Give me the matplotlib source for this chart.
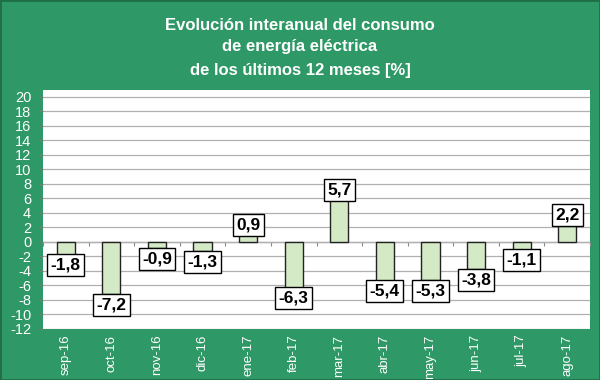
import matplotlib
matplotlib.use("Agg")
import matplotlib.pyplot as plt
import numpy as np

plt.rcParams["font.family"] = ["Liberation Sans", "DejaVu Sans"]

categories = ["sep-16", "oct-16", "nov-16", "dic-16", "ene-17", "feb-17",
              "mar-17", "abr-17", "may-17", "jun-17", "jul-17", "ago-17"]
values = [-1.8, -7.2, -0.9, -1.3, 0.9, -6.3, 5.7, -5.4, -5.3, -3.8, -1.1, 2.2]
yticks = list(range(-12, 21, 2))

bg = "#2e9866"
fig = plt.figure(figsize=(6, 3.8), dpi=100, facecolor=bg)
ax = fig.add_axes([43/600, 1-329/380, (590-43)/600, (329-90)/380])
ax.set_facecolor("white")

x = np.arange(len(categories))
ax.bar(x, values, width=0.4, color="#d4e9c6", edgecolor="#222222", linewidth=1.0, zorder=3)

for xi, v in zip(x, values):
    txt = f"{v:.1f}".replace(".", ",")
    if v < 0:
        y = v - 0.4
        va = "top"
    else:
        y = v + 0.4
        va = "bottom"
    ax.text(xi, y, txt, ha="center", va=va, fontsize=12.5, fontweight="bold",
            color="black", zorder=5,
            bbox=dict(boxstyle="square,pad=0.2", fc="white", ec="black", lw=1.0))

ymin, ymax = -12, 20.9
ax.set_xlim(-0.5, len(categories) - 0.5)
ax.set_ylim(ymin, ymax)
ax.set_yticks(yticks)
ax.set_yticklabels([str(t) for t in yticks], color="white", fontsize=10.5)
ax.set_xticks(x)
ax.set_xticklabels(categories, rotation=90, color="white", fontsize=9.5)
ax.tick_params(axis="x", length=0, pad=4)
ax.tick_params(axis="y", length=3, color="#777777", pad=5.5)
ax.grid(axis="y", color="#b0b0b0", linewidth=0.9, zorder=0)
ax.axhline(0, color="#888888", linewidth=0.9, zorder=1)
for s in ax.spines.values():
    s.set_visible(False)

# category-boundary ticks on the zero line
sec = ax.secondary_xaxis((0 - ymin) / (ymax - ymin))
sec.set_xticks(np.arange(len(categories) + 1) - 0.5)
sec.set_xticklabels([])
sec.tick_params(axis="x", length=3, color="#888888", direction="out")
sec.spines["bottom"].set_visible(False)

for line, yy in zip(["Evolución interanual del consumo",
                     "de energía eléctrica",
                     "de los últimos 12 meses [%]"], [25, 47, 70]):
    fig.text(0.5, 1-yy/380, line, ha="center", va="center",
             color="white", fontsize=12, fontweight="bold")

fig.patches.append(plt.Rectangle((0, 0), 1, 1, transform=fig.transFigure,
                                 fill=False, ec="#1f6e45", lw=2))
fig.savefig("out.png", dpi=100, facecolor=bg)
